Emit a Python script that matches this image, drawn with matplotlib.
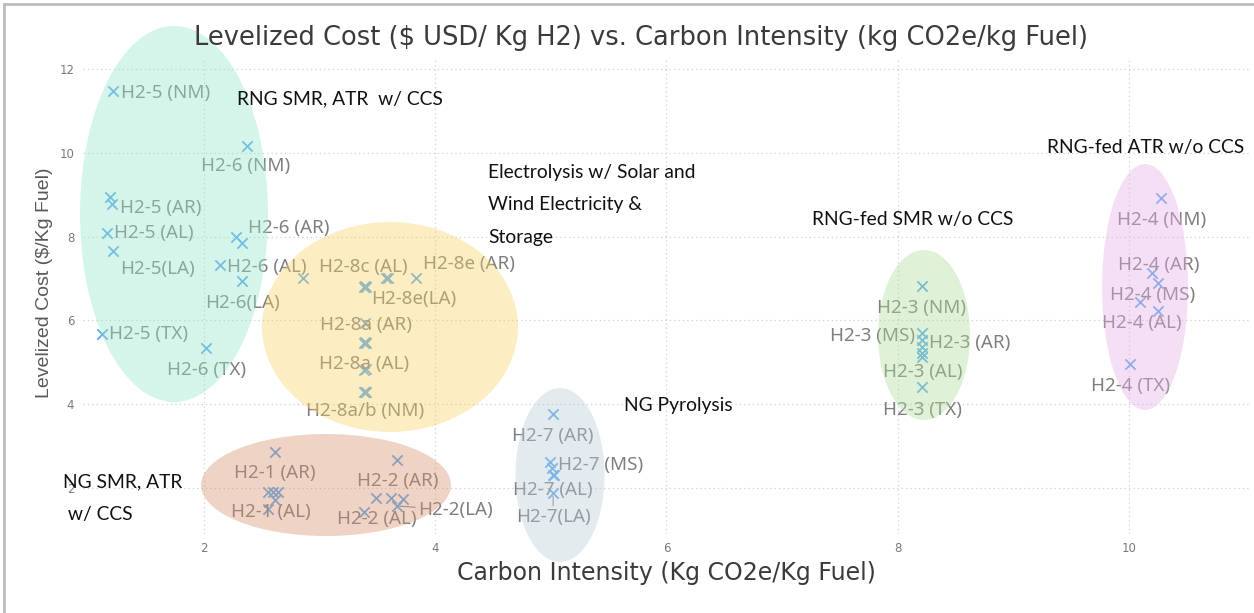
import matplotlib
matplotlib.use("Agg")
import matplotlib.pyplot as plt
from matplotlib.patches import Ellipse
from matplotlib.lines import Line2D

# ---------------- data ----------------
intensity = [
    # H2-5
    1.21, 1.19, 1.20, 1.16, 1.21, 1.12,
    # H2-6
    2.37, 2.28, 2.33, 2.14, 2.33, 2.02,
    # H2-8 (electrolysis)
    2.86, 3.38, 3.39, 3.40, 3.57, 3.59, 3.83, 3.39, 3.38, 3.39, 3.40,
    3.38, 3.40, 3.38, 3.39, 3.40,
    # H2-1
    2.61, 2.55, 2.60, 2.64, 2.61, 2.55,
    # H2-2
    3.67, 3.49, 3.62, 3.72, 3.67, 3.38,
    # H2-7
    5.02, 4.99, 5.01, 5.02, 5.03, 5.02,
    # H2-3
    8.21, 8.21, 8.21, 8.21, 8.21, 8.21, 8.21,
    # H2-4
    10.28, 10.20, 10.25, 10.10, 10.25, 10.01,
]
cost = [
    11.47, 8.95, 8.78, 8.09, 7.66, 5.68,
    10.15, 8.00, 7.85, 7.32, 6.95, 5.33,
    7.02, 6.79, 6.81, 6.80, 7.02, 7.02, 7.02, 5.93, 5.46, 5.48, 5.46,
    4.82, 4.84, 4.28, 4.29, 4.28,
    2.85, 1.90, 1.90, 1.90, 1.71, 1.50,
    2.68, 1.77, 1.77, 1.74, 1.57, 1.43,
    3.76, 2.63, 2.47, 2.31, 2.31, 1.87,
    6.83, 5.69, 5.53, 5.36, 5.21, 5.12, 4.42,
    8.93, 7.12, 6.89, 6.45, 6.22, 4.95,
]

# point labels: (text, index of the point it names)
point_labels = [
    ("H2-5 (NM)", 0), ("H2-5 (AR)", 2), ("H2-5 (AL)", 3), ("H2-5(LA)", 4), ("H2-5 (TX)", 5),
    ("H2-6 (NM)", 6), ("H2-6 (AR)", 7), ("H2-6 (AL)", 9), ("H2-6(LA)", 10), ("H2-6 (TX)", 11),
    ("H2-8c (AL)", 14), ("H2-8e (AR)", 18), ("H2-8e(LA)", 16), ("H2-8a (AR)", 19),
    ("H2-8a (AL)", 23), ("H2-8a/b (NM)", 25),
    ("H2-1 (AR)", 28), ("H2-1 (AL)", 33),
    ("H2-2 (AR)", 34), ("H2-2 (AL)", 39), ("H2-2(LA)", 38),
    ("H2-7 (AR)", 40), ("H2-7 (MS)", 41), ("H2-7 (AL)", 43), ("H2-7(LA)", 45),
    ("H2-3 (NM)", 46), ("H2-3 (MS)", 47), ("H2-3 (AR)", 48), ("H2-3 (AL)", 51), ("H2-3 (TX)", 52),
    ("H2-4 (NM)", 53), ("H2-4 (AR)", 54), ("H2-4 (MS)", 55), ("H2-4 (AL)", 56), ("H2-4 (TX)", 58),
]

group_names = ["RNG SMR, ATR  w/ CCS",
               "Electrolysis w/ Solar and\nWind Electricity &\nStorage",
               "NG SMR, ATR\n w/ CCS",
               "NG Pyrolysis",
               "RNG-fed SMR w/o CCS",
               "RNG-fed ATR w/o CCS"]

x_ticks = [2, 4, 6, 8, 10]
y_ticks = [2, 4, 6, 8, 10, 12]

title = "Levelized Cost ($ USD/ Kg H2) vs. Carbon Intensity (kg CO2e/kg Fuel)"
xlabel = "Carbon Intensity (Kg CO2e/Kg Fuel)"
ylabel = "Levelized Cost ($/Kg Fuel)"

# ---------------- layout / style ----------------
W, H = 1254, 613
fig = plt.figure(figsize=(W / 100, H / 100), dpi=100)

def fx(px):
    return px / W

def fy(py):
    return 1 - py / H

ax = fig.add_axes([0.0659, 0.1287, 0.9311, 0.7759])
ax.set_xlim(0.95, 11.05)
ax.set_ylim(0.9, 12.25)
for s in ax.spines.values():
    s.set_visible(False)
ax.set_xticks(x_ticks)
ax.set_yticks(y_ticks)
ax.tick_params(length=0, labelsize=8.5, colors="#7a7a7a", pad=6)
ax.grid(True, color="#cfcfcf", linestyle=(0, (1, 2.5)), linewidth=0.9)
ax.set_axisbelow(True)

marker_color = "#5aa9f0"
ax.scatter(intensity, cost, marker="x", s=55, color=marker_color, linewidths=1.3, zorder=3)

# label offsets in pixels (dx, dy) and alignment
label_layout = {
    "H2-5 (NM)": (8, -2, "left"), "H2-5 (AR)": (8, -4, "left"), "H2-5 (AL)": (7, 0, "left"),
    "H2-5(LA)": (7, -18, "left"), "H2-5 (TX)": (7, 0, "left"),
    "H2-6 (NM)": (-1, -20, "center"), "H2-6 (AR)": (12, 9, "left"), "H2-6 (AL)": (7, -2, "left"),
    "H2-6(LA)": (0, -22, "center"), "H2-6 (TX)": (0, -22, "center"),
    "H2-8c (AL)": (-1, 19, "center"), "H2-8e (AR)": (7, 14, "left"), "H2-8e(LA)": (-14, -21, "left"),
    "H2-8a (AR)": (1, -2, "center"), "H2-8a (AL)": (1, 6, "center"), "H2-8a/b (NM)": (2, -19, "center"),
    "H2-1 (AR)": (0, -21, "center"), "H2-1 (AL)": (3, -3, "center"),
    "H2-2 (AR)": (1, -21, "center"), "H2-2 (AL)": (13, -7, "center"), "H2-2(LA)": (21, -4, "left"),
    "H2-7 (AR)": (0, -22, "center"), "H2-7 (MS)": (8, -3, "left"), "H2-7 (AL)": (0, -15, "center"),
    "H2-7(LA)": (0, -24, "center"),
    "H2-3 (NM)": (0, -22, "center"), "H2-3 (MS)": (-7, -3, "right"), "H2-3 (AR)": (7, -3, "left"),
    "H2-3 (AL)": (1, -15, "center"), "H2-3 (TX)": (1, -23, "center"),
    "H2-4 (NM)": (0, -22, "center"), "H2-4 (AR)": (7, 8, "center"), "H2-4 (MS)": (-5, -12, "center"),
    "H2-4 (AL)": (1, -21, "center"), "H2-4 (TX)": (1, -22, "center"),
}
leader = {"H2-2(LA)", "H2-7(LA)"}
label_color = "#7f7f7f"
for text, idx in point_labels:
    dx, dy, ha = label_layout[text]
    kw = {}
    if text in leader:
        kw["arrowprops"] = dict(arrowstyle="-", color="#8a8a8a", lw=0.8, shrinkA=0, shrinkB=2)
    ax.annotate(text, (intensity[idx], cost[idx]), xytext=(dx, dy), textcoords="offset pixels",
                ha=ha, va="center", fontsize=13.5, color=label_color, family="Noto Sans",
                zorder=4, **kw)

# translucent group ellipses (pixel-measured centres converted to data units)
def px2data(px, py):
    return 2 + (px - 204) / 115.6, 12 - (py - 69) / 41.9

ellipses = [  # centre px, width px, height px, colour
    ((174, 214), 188, 376, "#98e6cd"),
    ((390, 327), 256, 210, "#fad26b"),
    ((326, 485), 250, 102, "#d99370"),
    ((560, 475), 89, 174, "#bbcdd9"),
    ((924, 335), 92, 170, "#afde9d"),
    ((1145, 287), 86, 246, "#e8b1e6"),
]
for (cx, cy), w, h, c in ellipses:
    dx, dy = px2data(cx, cy)
    e = Ellipse((dx, dy), w / 115.6, h / 41.9, facecolor=c, edgecolor="none", alpha=0.4,
                zorder=5, clip_on=False)
    ax.add_patch(e)

# group labels
grp_pos = [(237, 99, 1.2), (488, 164, 2.1), (63, 473, 2.15), (624, 406, 1.2), (812, 220, 1.2),
           (1047, 147, 1.2)]
for name, (px, py, ls) in zip(group_names, grp_pos):
    va = "center" if "\n" not in name else "top"
    fig.text(fx(px), fy(py), name, ha="left", va=va, fontsize=13.9, color="#111111",
             family="Lato", linespacing=ls, zorder=10)

fig.text(fx(641), fy(38), title, ha="center", va="center", fontsize=18.5, color="#3b3b3b",
         family="DejaVu Sans")
fig.text(fx(666), fy(573), xlabel, ha="center", va="center", fontsize=17, color="#3b3b3b",
         family="DejaVu Sans")
fig.text(fx(45), fy(283), ylabel, ha="center", va="center", rotation=90, fontsize=14,
         color="#595959", family="Liberation Sans")

# frame lines of the screenshot
fig.add_artist(Line2D([fx(4), fx(4)], [0, fy(4)], color="#bdbdbd", lw=2))
fig.add_artist(Line2D([fx(4), 1], [fy(4), fy(4)], color="#bdbdbd", lw=2))

fig.savefig("out.png", dpi=100, facecolor="white")
